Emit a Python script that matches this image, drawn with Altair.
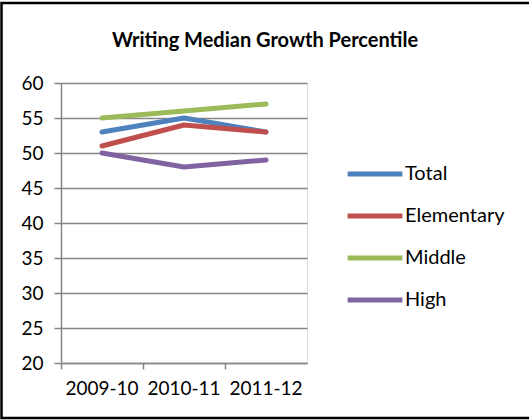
import altair as alt
import pandas as pd

years = ["2009-10", "2010-11", "2011-12"]
series_names = ["Total", "Elementary", "Middle", "High"]
total = [53, 55, 53]
elementary = [51, 54, 53]
middle = [55, 56, 57]
high = [50, 48, 49]
colors = ["#4F81BD", "#C0504D", "#9BBB59", "#8064A2"]
y_ticks = [20, 25, 30, 35, 40, 45, 50, 55, 60]

rows = []
for name, vals in zip(series_names, [total, elementary, middle, high]):
    for yr, v in zip(years, vals):
        rows.append({"Year": yr, "Series": name, "Value": v})
df = pd.DataFrame(rows)

FONT = "Lato"
W, H = 246, 280
PL, PT, PR, PB = 61, 83, 222, 57

lines = alt.Chart(df).mark_line(strokeWidth=5, strokeCap="round", strokeJoin="round").encode(
    x=alt.X("Year:N", sort=years, bandPosition=0.5,
            scale=alt.Scale(type="band", paddingInner=0, paddingOuter=0),
            axis=alt.Axis(title=None, bandPosition=0, labelAngle=0, grid=False,
                          domainColor="#868686", domainWidth=1.5, tickColor="#868686",
                          tickWidth=1.5, tickSize=6, labelFontSize=19, labelFont=FONT,
                          labelColor="#000000", labelPadding=10)),
    y=alt.Y("Value:Q", scale=alt.Scale(domain=[20, 60], nice=False, zero=False),
            axis=alt.Axis(title=None, values=y_ticks, grid=True, gridColor="#868686",
                          gridWidth=1.5, domainColor="#868686", domainWidth=1.5,
                          tickColor="#868686", tickWidth=1.5, tickSize=7,
                          labelFontSize=19, labelFont=FONT, labelColor="#000000",
                          labelPadding=11)),
    color=alt.Color("Series:N", sort=series_names,
                    scale=alt.Scale(domain=series_names, range=colors),
                    legend=alt.Legend(title=None, orient="none", legendX=284, legendY=61,
                                      symbolType="stroke", symbolSize=3000,
                                      symbolStrokeWidth=5, labelFontSize=20,
                                      labelFont=FONT, labelColor="#000000",
                                      labelOffset=0, rowPadding=2)),
)

border = alt.Chart(pd.DataFrame({"a": [0]})).mark_rect(
    fill=None, stroke="#000000", strokeWidth=2.5
).encode(x=alt.value(-PL + 1.5), x2=alt.value(W + PR + 10), y=alt.value(-PT + 3), y2=alt.value(H + PB - 2))

chart = alt.layer(lines, border).properties(
    width=W, height=H,
    padding={"left": PL, "top": PT, "right": PR, "bottom": PB},
    autosize=alt.AutoSizeParams(type="none"),
    title=alt.TitleParams("Writing Median Growth Percentile", font=FONT, fontSize=20,
                          fontWeight="bold", color="#000000", anchor="middle",
                          dx=81, offset=-49),
).configure_view(stroke=None).configure(background="#ffffff")

chart.save("out.html", embed_options={"renderer": "svg", "actions": False})
